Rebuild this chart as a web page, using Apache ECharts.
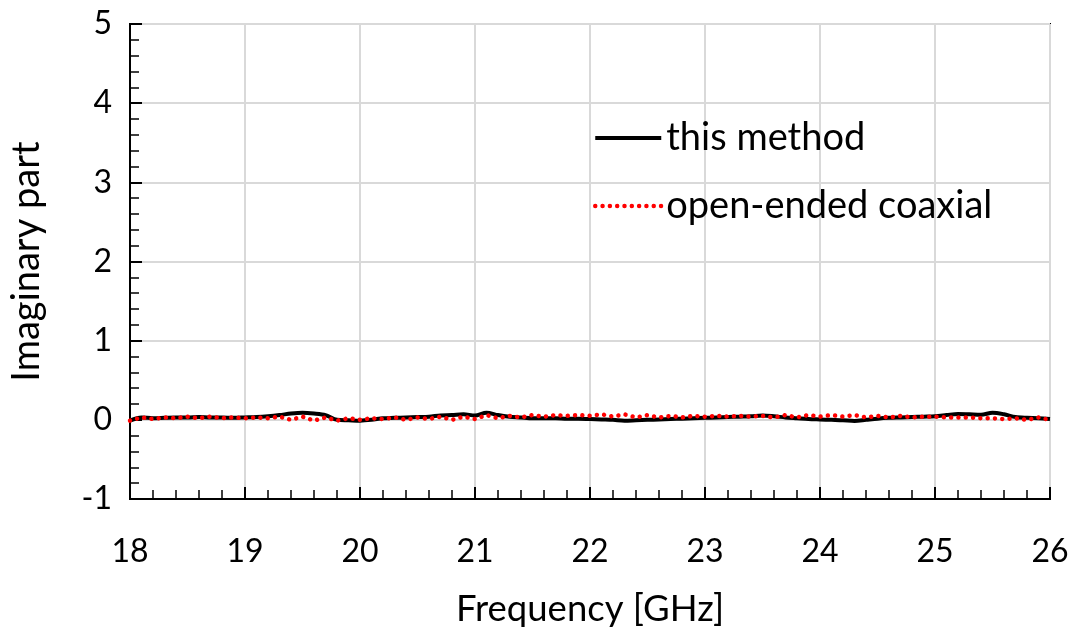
<!DOCTYPE html>
<html>
<head>
<meta charset="utf-8">
<script src="https://cdn.jsdelivr.net/npm/echarts@6/dist/echarts.min.js"></script>
<style>
  html, body { margin: 0; padding: 0; background: #fff; }
  #chart { width: 1081px; height: 633px; }
</style>
</head>
<body>
<div id="chart"></div>
<script>
// Frequency sweep, 18–26 GHz in 0.1 GHz steps
const frequency = [];
for (let i = 0; i <= 80; i++) frequency.push(+(18 + i * 0.1).toFixed(1));

// Imaginary part, this method
const thisMethod = [
  -0.01, 0.03, 0.02, 0.025, 0.03, 0.03, 0.035, 0.03, 0.03, 0.025,
  0.03, 0.035, 0.045, 0.06, 0.08, 0.09, 0.08, 0.06, 0.0, -0.005,
  -0.01, 0.0, 0.02, 0.025, 0.03, 0.035, 0.04, 0.055, 0.06, 0.07,
  0.055, 0.09, 0.06, 0.04, 0.03, 0.02, 0.02, 0.02, 0.015, 0.015,
  0.01, 0.005, 0.0, -0.01, -0.005, 0.0, 0.005, 0.01, 0.015, 0.02,
  0.025, 0.03, 0.035, 0.04, 0.045, 0.055, 0.045, 0.03, 0.02, 0.01,
  0.005, 0.0, -0.005, -0.015, 0.0, 0.015, 0.025, 0.03, 0.035, 0.04,
  0.045, 0.06, 0.075, 0.07, 0.065, 0.09, 0.07, 0.035, 0.025, 0.02,
  0.01
];

// Imaginary part, open-ended coaxial probe
const coaxial = [
  -0.01, 0.03, 0.01, 0.03, 0.02, 0.04, 0.02, 0.04, 0.02, 0.03,
  0.02, 0.03, 0.02, 0.04, 0.0, 0.04, -0.01, 0.03, -0.01, 0.02,
  0.0, 0.02, 0.01, 0.03, 0.0, 0.03, 0.01, 0.04, 0.0, 0.04,
  0.01, 0.06, 0.02, 0.05, 0.03, 0.06, 0.04, 0.06, 0.05, 0.06,
  0.05, 0.07, 0.04, 0.07, 0.03, 0.06, 0.03, 0.05, 0.03, 0.05,
  0.04, 0.05, 0.04, 0.05, 0.04, 0.05, 0.03, 0.06, 0.03, 0.06,
  0.04, 0.06, 0.04, 0.06, 0.03, 0.05, 0.03, 0.05, 0.03, 0.04,
  0.04, 0.03, 0.03, 0.03, 0.02, 0.02, 0.01, 0.02, 0.0, 0.03,
  0.0
];

const seriesNames = ['this method', 'open-ended coaxial'];
const xTicks = [18, 19, 20, 21, 22, 23, 24, 25, 26];
const yTicks = [-1, 0, 1, 2, 3, 4, 5];

const FONT = 'Lato, "Open Sans", sans-serif';

const blackLine = { color: '#000', width: 4 };
const redDots = { color: '#ff0000', width: 4.5, type: [0.01, 7.3], cap: 'round' };

const pairs = (ys) => frequency.map((f, i) => [f, ys[i]]);

const chart = echarts.init(document.getElementById('chart'), null, { renderer: 'canvas' });

chart.setOption({
  animation: false,
  backgroundColor: '#ffffff',
  grid: {
    left: 128, right: 31, top: 24, bottom: 133,
    show: true, borderColor: '#000', borderWidth: 2, backgroundColor: 'transparent'
  },
  legend: {
    orient: 'vertical',
    left: 588, top: 113,
    itemWidth: 66, itemHeight: 14, itemGap: 28,
    textStyle: { fontFamily: FONT, fontSize: 38, lineHeight: 40, color: '#000', padding: [0, 0, 0, 0] },
    data: [
      { name: seriesNames[0], itemStyle: { opacity: 0 }, lineStyle: blackLine },
      { name: seriesNames[1], itemStyle: { opacity: 0 }, lineStyle: redDots }
    ]
  },
  xAxis: {
    type: 'value',
    min: xTicks[0], max: xTicks[xTicks.length - 1], interval: 1,
    name: 'Frequency [GHz]',
    nameLocation: 'middle', nameGap: 92,
    nameTextStyle: { fontFamily: FONT, fontSize: 36.5, color: '#000' },
    axisLine: { onZero: false, lineStyle: { color: '#000', width: 2 } },
    axisTick: { inside: true, length: 12, lineStyle: { color: '#000', width: 2 } },
    minorTick: { show: true, splitNumber: 5, length: 9, lineStyle: { color: '#000', width: 1.5 } },
    axisLabel: { fontFamily: FONT, fontSize: 32, color: '#000', margin: 37 },
    splitLine: { show: true, lineStyle: { color: '#d9d9d9', width: 2 } }
  },
  yAxis: {
    type: 'value',
    min: yTicks[0], max: yTicks[yTicks.length - 1], interval: 1,
    name: 'Imaginary part',
    nameLocation: 'middle', nameGap: 84, nameRotate: 90,
    nameTextStyle: { fontFamily: FONT, fontSize: 38, color: '#000' },
    axisLine: { lineStyle: { color: '#000', width: 2 } },
    axisTick: { inside: true, length: 12, lineStyle: { color: '#000', width: 2 } },
    minorTick: { show: true, splitNumber: 5, length: 9, lineStyle: { color: '#000', width: 1.5 } },
    axisLabel: { fontFamily: FONT, fontSize: 32, color: '#000', margin: 18 },
    splitLine: { show: true, lineStyle: { color: '#d9d9d9', width: 2 } }
  },
  series: [
    {
      name: seriesNames[0],
      type: 'line',
      data: pairs(thisMethod),
      smooth: 0.3,
      symbol: 'none',
      color: '#000',
      lineStyle: blackLine
    },
    {
      name: seriesNames[1],
      type: 'line',
      data: pairs(coaxial),
      symbol: 'none',
      color: '#ff0000',
      lineStyle: redDots
    }
  ]
});
</script>
</body>
</html>
